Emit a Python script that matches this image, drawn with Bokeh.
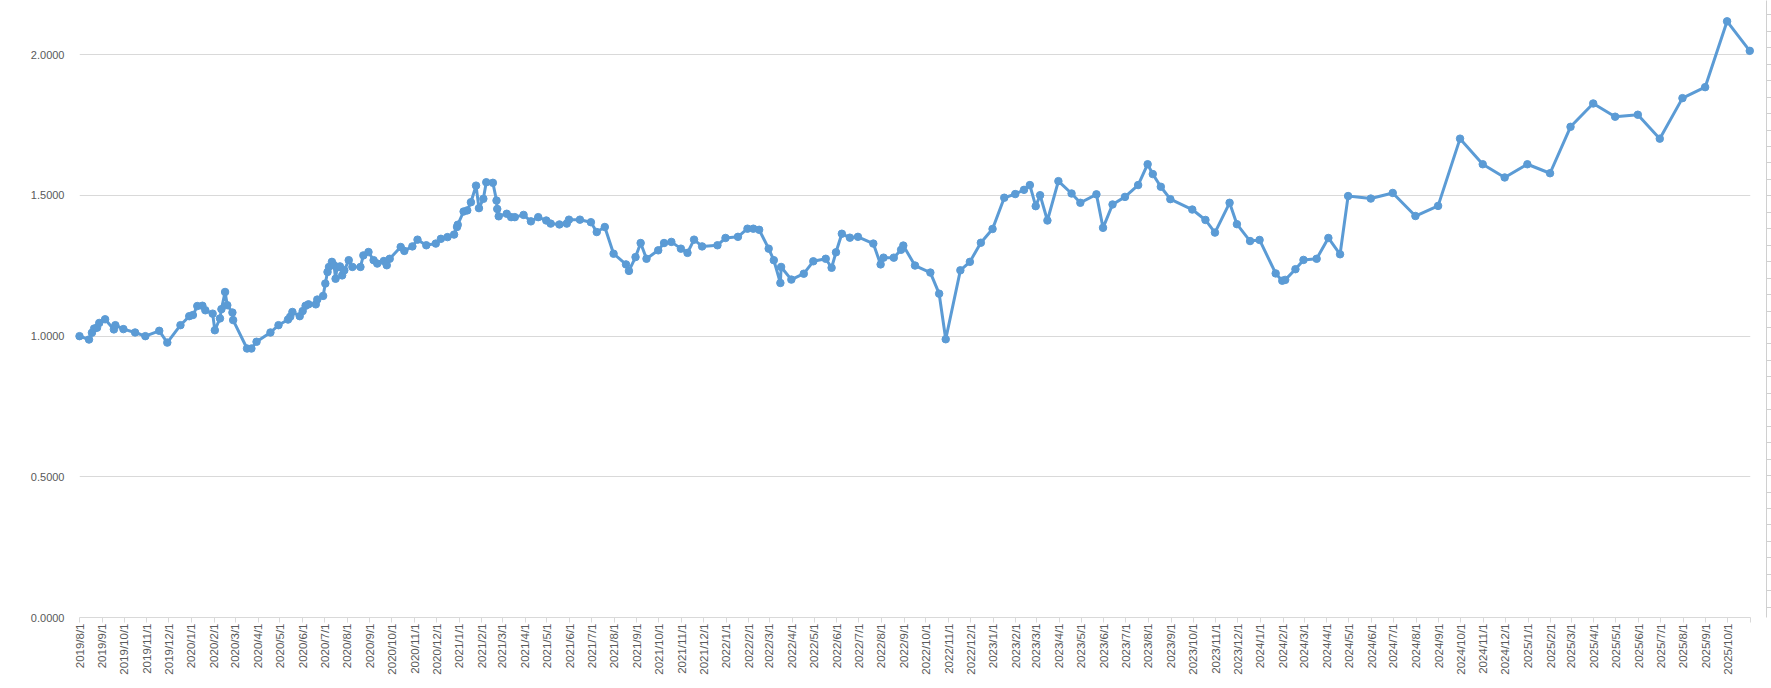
import math
import pandas as pd
from bokeh.plotting import figure
from bokeh.models import (Range1d, MonthsTicker, CustomJSTickFormatter,
                          NumeralTickFormatter, FixedTicker, LinearAxis)
from bokeh.layouts import row
from bokeh.embed import file_html
from bokeh.resources import INLINE

# ---------------- data ----------------
dates = [
    "2019-08-01", "2019-08-14", "2019-08-18", "2019-08-21", "2019-08-25", "2019-08-28",
    "2019-09-05", "2019-09-17", "2019-09-19", "2019-09-30", "2019-10-16", "2019-10-30",
    "2019-11-18", "2019-11-29", "2019-12-17", "2019-12-29", "2020-01-03", "2020-01-09",
    "2020-01-16", "2020-01-20", "2020-01-30", "2020-02-02", "2020-02-09", "2020-02-11",
    "2020-02-16", "2020-02-19", "2020-02-26", "2020-02-27", "2020-03-17", "2020-03-23",
    "2020-03-30", "2020-04-18", "2020-04-29", "2020-05-12", "2020-05-15", "2020-05-18",
    "2020-05-28", "2020-06-01", "2020-06-05", "2020-06-09", "2020-06-19", "2020-06-21",
    "2020-06-29", "2020-07-02", "2020-07-05", "2020-07-07", "2020-07-11", "2020-07-14",
    "2020-07-16", "2020-07-18", "2020-07-22", "2020-07-25", "2020-07-28", "2020-08-03",
    "2020-08-08", "2020-08-19", "2020-08-23", "2020-08-30", "2020-09-06", "2020-09-11",
    "2020-09-20", "2020-09-24", "2020-09-28", "2020-10-13", "2020-10-18", "2020-10-29",
    "2020-11-05", "2020-11-17", "2020-11-30", "2020-12-07", "2020-12-16", "2020-12-25",
    "2020-12-29", "2020-12-30", "2021-01-07", "2021-01-12", "2021-01-17", "2021-01-24",
    "2021-01-28", "2021-02-03", "2021-02-07", "2021-02-16", "2021-02-21", "2021-02-22",
    "2021-02-24", "2021-03-07", "2021-03-13", "2021-03-18", "2021-03-30", "2021-04-09",
    "2021-04-19", "2021-04-30", "2021-05-06", "2021-05-18", "2021-05-28", "2021-05-31",
    "2021-06-15", "2021-06-30", "2021-07-08", "2021-07-19", "2021-07-31", "2021-08-17",
    "2021-08-21", "2021-08-30", "2021-09-06", "2021-09-14", "2021-09-30", "2021-10-08",
    "2021-10-18", "2021-10-31", "2021-11-09", "2021-11-18", "2021-11-29", "2021-12-20",
    "2021-12-31", "2022-01-17", "2022-01-30", "2022-02-07", "2022-02-15", "2022-02-28",
    "2022-03-07", "2022-03-16", "2022-03-17", "2022-03-31", "2022-04-17", "2022-04-30",
    "2022-05-17", "2022-05-25", "2022-05-31", "2022-06-08", "2022-06-19", "2022-06-30",
    "2022-07-21", "2022-07-31", "2022-08-04", "2022-08-18", "2022-08-28", "2022-08-31",
    "2022-09-16", "2022-10-07", "2022-10-19", "2022-10-28", "2022-11-17", "2022-11-30",
    "2022-12-15", "2022-12-31", "2023-01-16", "2023-01-31", "2023-02-12", "2023-02-20",
    "2023-02-28", "2023-03-06", "2023-03-16", "2023-03-31", "2023-04-18", "2023-04-30",
    "2023-05-22", "2023-05-31", "2023-06-13", "2023-06-30", "2023-07-18", "2023-07-31",
    "2023-08-07", "2023-08-18", "2023-08-31", "2023-09-30", "2023-10-18", "2023-10-31",
    "2023-11-20", "2023-11-30", "2023-12-18", "2023-12-31", "2024-01-22", "2024-01-31",
    "2024-02-04", "2024-02-18", "2024-02-29", "2024-03-18", "2024-04-03", "2024-04-19",
    "2024-04-30", "2024-05-31", "2024-06-30", "2024-07-31", "2024-08-31", "2024-09-30",
    "2024-10-31", "2024-11-30", "2024-12-31", "2025-01-31", "2025-02-28", "2025-03-31",
    "2025-04-30", "2025-05-31", "2025-06-30", "2025-07-31", "2025-08-31", "2025-09-30",
    "2025-10-31",
]

values = [
    1.000, 0.988, 1.012, 1.027, 1.030, 1.047,
    1.060, 1.024, 1.039, 1.025, 1.013, 1.000,
    1.019, 0.977, 1.039, 1.071, 1.075, 1.107,
    1.108, 1.092, 1.080, 1.021, 1.063, 1.096,
    1.157, 1.110, 1.084, 1.057, 0.956, 0.956,
    0.980, 1.013, 1.039, 1.059, 1.069, 1.086,
    1.071, 1.089, 1.108, 1.113, 1.113, 1.130,
    1.143, 1.187, 1.228, 1.246, 1.264, 1.252,
    1.204, 1.244, 1.248, 1.216, 1.234, 1.270,
    1.246, 1.246, 1.287, 1.299, 1.270, 1.258,
    1.267, 1.252, 1.275, 1.317, 1.303, 1.319,
    1.343, 1.323, 1.329, 1.346, 1.352, 1.361,
    1.388, 1.396, 1.443, 1.447, 1.476, 1.535,
    1.455, 1.488, 1.547, 1.545, 1.482, 1.452,
    1.426, 1.435, 1.423, 1.423, 1.431, 1.408,
    1.423, 1.411, 1.400, 1.397, 1.400, 1.414,
    1.414, 1.405, 1.370, 1.388, 1.293, 1.255,
    1.232, 1.281, 1.331, 1.275, 1.305, 1.331,
    1.335, 1.311, 1.296, 1.343, 1.319, 1.323,
    1.349, 1.353, 1.382, 1.382, 1.378, 1.311,
    1.270, 1.189, 1.246, 1.201, 1.222, 1.266,
    1.275, 1.243, 1.298, 1.364, 1.350, 1.353,
    1.329, 1.255, 1.279, 1.279, 1.307, 1.322,
    1.251, 1.226, 1.151, 0.989, 1.234, 1.264,
    1.332, 1.381, 1.492, 1.505, 1.520, 1.537,
    1.462, 1.501, 1.411, 1.551, 1.507, 1.474,
    1.504, 1.385, 1.468, 1.495, 1.537, 1.611,
    1.576, 1.531, 1.487, 1.450, 1.413, 1.368,
    1.474, 1.398, 1.338, 1.342, 1.223, 1.197,
    1.200, 1.238, 1.271, 1.275, 1.349, 1.291,
    1.498, 1.489, 1.509, 1.427, 1.463, 1.702,
    1.611, 1.564, 1.611, 1.579, 1.744, 1.827,
    1.780, 1.787, 1.702, 1.846, 1.885, 2.119,
    2.014,
]

x_start = "2019-08-01"
x_end = "2025-11-01"
y_ticks = [0.0, 0.5, 1.0, 1.5, 2.0]
y_top = 2.193

# ---------------- style ----------------
BLUE = "#5B9BD5"
GRID = "#D9D9D9"
LABEL = "#595959"
FONT = "Liberation Sans"

x = pd.to_datetime(dates)
t0 = pd.Timestamp(x_start)
t1 = pd.Timestamp(x_end)
end_ms = (t1 - pd.Timestamp("1970-01-01")).total_seconds() * 1000.0

p = figure(width=1755, height=688, x_axis_type="datetime",
           x_range=Range1d(t0, t1), y_range=Range1d(0, y_top),
           output_backend="svg", toolbar_location=None,
           min_border_left=79, min_border_right=5,
           min_border_top=0, min_border_bottom=71)
p.outline_line_color = None
p.background_fill_color = "white"
p.border_fill_color = "white"

# drawn at annotation level so end markers are not clipped by the frame
p.line(x, values, line_color=BLUE, line_width=3, line_join="round",
       level="annotation")
p.scatter(x, values, size=7.5, fill_color=BLUE, line_color=BLUE,
          level="annotation")

# y axis
p.yaxis.ticker = FixedTicker(ticks=y_ticks)
p.yaxis.formatter = NumeralTickFormatter(format="0.0000")
p.yaxis.axis_line_color = None
p.yaxis.major_tick_line_color = None
p.yaxis.minor_tick_line_color = None
p.yaxis.major_label_standoff = 9
p.yaxis.major_label_text_font = FONT
p.yaxis.major_label_text_font_size = "11px"
p.yaxis.major_label_text_color = LABEL

# x axis
p.xaxis.ticker = MonthsTicker(months=list(range(1, 13)))
p.xaxis.formatter = CustomJSTickFormatter(args=dict(end=end_ms), code="""
    if (tick >= end - 1) { return ''; }
    const d = new Date(tick);
    return d.getUTCFullYear() + '/' + (d.getUTCMonth() + 1) + '/' + d.getUTCDate();
""")
p.xaxis.major_label_orientation = math.pi / 2
p.xaxis.axis_line_color = GRID
p.xaxis.major_tick_line_color = GRID
p.xaxis.minor_tick_line_color = None
p.xaxis.major_tick_out = 5
p.xaxis.major_tick_in = 0
p.xaxis.major_label_standoff = 1
p.xaxis.major_label_text_font = FONT
p.xaxis.major_label_text_font_size = "11.5px"
p.xaxis.major_label_text_color = LABEL

p.xgrid.visible = False
p.ygrid.grid_line_color = GRID
p.ygrid.grid_line_width = 1

# spreadsheet edge on the right (row separators)
row_ticks = [16 + 18.35 * k for k in range(37)]
s = figure(width=16, height=688, x_range=Range1d(0, 1), y_range=Range1d(688, 0),
           output_backend="svg", toolbar_location=None,
           x_axis_location=None, y_axis_location=None,
           min_border_left=11, min_border_right=0,
           min_border_top=0, min_border_bottom=0)
s.outline_line_color = None
s.xgrid.visible = False
s.ygrid.visible = False
edge = LinearAxis(ticker=FixedTicker(ticks=row_ticks),
                  formatter=CustomJSTickFormatter(code="return '';"),
                  axis_line_color="#D0D0D0", major_tick_line_color="#D0D0D0",
                  major_tick_in=5, major_tick_out=0, minor_tick_line_color=None,
                  major_label_standoff=0)
s.add_layout(edge, "left")

layout = row(p, s)
open("out.html", "w").write(file_html(layout, INLINE))
